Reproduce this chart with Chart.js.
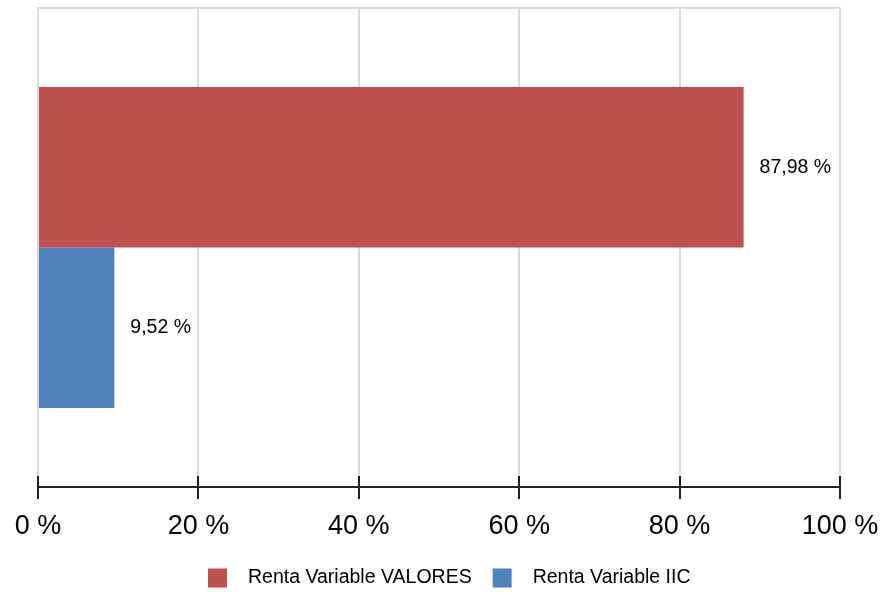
<!DOCTYPE html>
<html lang="es">
<head>
<meta charset="UTF-8">
<title>Renta Variable</title>
<script src="https://cdn.jsdelivr.net/npm/chart.js"></script>
<style>
  html, body { margin: 0; padding: 0; background: #fff; }
  #wrap { width: 882px; height: 595px; }
</style>
</head>
<body>
<div id="wrap"><canvas id="grafico" width="882" height="595"></canvas></div>
<script>
  // datos
  const categorias = [''];
  const series = ['Renta Variable VALORES', 'Renta Variable IIC'];
  const valoresValores = [87.98];
  const valoresIIC = [9.52];
  const ticksX = [0, 20, 40, 60, 80, 100];

  const colores = ['#C0504D', '#4F81BD'];
  const fuente = 'Liberation Sans, Arial, sans-serif';

  function pct(v) {
    return v.toFixed(2).replace('.', ',') + ' %';
  }

  // marco, marcas del eje, etiquetas y leyenda
  const extras = {
    id: 'extras',
    afterDraw(chart) {
      const ctx = chart.ctx;
      const area = chart.chartArea;
      const x = chart.scales.x;
      ctx.save();

      // linea superior del marco
      ctx.strokeStyle = '#d9d9d9';
      ctx.lineWidth = 2;
      ctx.beginPath();
      ctx.moveTo(area.left - 1, area.top);
      ctx.lineTo(area.right + 1, area.top);
      ctx.stroke();

      // marcas del eje x
      ctx.strokeStyle = '#222';
      ctx.lineWidth = 2;
      ticksX.forEach(t => {
        const px = Math.round(x.getPixelForValue(t));
        ctx.beginPath();
        ctx.moveTo(px, area.bottom - 11);
        ctx.lineTo(px, area.bottom + 12);
        ctx.stroke();
      });

      // etiquetas de valor
      ctx.fillStyle = '#000';
      ctx.font = '19.5px ' + fuente;
      ctx.textAlign = 'left';
      ctx.textBaseline = 'middle';
      chart.data.datasets.forEach((ds, i) => {
        chart.getDatasetMeta(i).data.forEach((bar, j) => {
          ctx.fillText(pct(ds.data[j]), bar.x + 16, bar.y);
        });
      });

      // leyenda
      let lx = 208;
      const ly = 578;
      chart.data.datasets.forEach((ds, i) => {
        ctx.fillStyle = ds.backgroundColor;
        ctx.fillRect(lx, ly - 9.5, 19, 19);
        ctx.fillStyle = '#000';
        ctx.fillText(ds.label, lx + 40, ly);
        lx += 40 + ctx.measureText(ds.label).width + 21;
      });

      ctx.restore();
    }
  };

  new Chart(document.getElementById('grafico'), {
    type: 'bar',
    data: {
      labels: categorias,
      datasets: [
        { label: series[0], data: valoresValores, backgroundColor: colores[0] },
        { label: series[1], data: valoresIIC, backgroundColor: colores[1] }
      ]
    },
    options: {
      indexAxis: 'y',
      responsive: false,
      animation: false,
      layout: { padding: { left: 38, right: 42, top: 8, bottom: 58 } },
      datasets: { bar: { categoryPercentage: 0.67, barPercentage: 1 } },
      plugins: {
        legend: { display: false },
        tooltip: { enabled: false }
      },
      scales: {
        x: {
          min: 0,
          max: 100,
          afterBuildTicks: s => { s.ticks = ticksX.map(v => ({ value: v })); },
          afterFit: s => { s.height = 50; s.paddingLeft = 0; s.paddingRight = 0; },
          grid: { color: '#d9d9d9', lineWidth: 2, drawTicks: false },
          border: { display: true, color: '#222', width: 2 },
          ticks: {
            padding: 23,
            color: '#000',
            font: { family: fuente, size: 27 },
            callback: v => v + ' %'
          }
        },
        y: { display: false }
      }
    },
    plugins: [extras]
  });
</script>
</body>
</html>
